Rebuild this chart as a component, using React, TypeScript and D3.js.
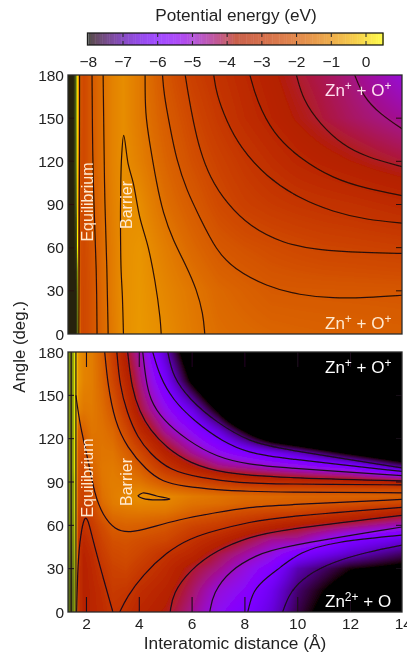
import React, { useMemo } from 'react';
import * as d3 from 'd3';

const W = 407;
const H = 652;
const FONT = '"Liberation Sans", Arial, sans-serif';

// colour bar
const barTicks = [-8, -7, -6, -5, -4, -3, -2, -1, 0];

// axes
const rTicks = [2, 4, 6, 8, 10, 12, 14];
const angleTicks = [0, 30, 60, 90, 120, 150, 180];

// upper panel energies (eV), rows by angle, columns by distance
const topAngles = [180, 150, 120, 90, 60, 30, 0];
const topR = [1.3, 1.5, 1.6, 1.7, 1.8, 1.9, 2.2, 2.6, 3, 3.4, 4, 5, 6, 7, 8, 9, 10, 11, 12, 13, 14];
const top180 = [5, 5, 1.5, -1, -2.2, -2.4, -2, -1.55, -1.2, -1.03, -1.35, -2.1, -2.65, -3.06, -3.4, -3.7, -4, -4.2, -4.45, -4.75, -5.1];
const top150 = [5, 5, 1.5, -1, -2.2, -2.4, -2, -1.55, -1.2, -1.02, -1.35, -1.95, -2.43, -2.87, -3.25, -3.55, -3.82, -4.07, -4.27, -4.44, -4.6];
const top120 = [5, 5, 1.7, -1.3, -2.3, -2.4, -2, -1.55, -1.2, -1, -1.25, -1.78, -2.24, -2.6, -2.92, -3.2, -3.45, -3.62, -3.77, -3.92, -4.05];
const top90 = [5, 5, 2.5, -1.8, -2.3, -2.4, -2.02, -1.6, -1.25, -1, -1.02, -1.57, -1.98, -2.37, -2.65, -2.82, -2.95, -3.04, -3.12, -3.22, -3.33];
const top60 = [5, 5, 4, -1.8, -2.3, -2.4, -2.1, -1.65, -1.3, -1, -0.9, -1.3, -1.7, -2.03, -2.2, -2.32, -2.42, -2.51, -2.55, -2.6, -2.65];
const top30 = [5, 5, 5, -1, -2.4, -2.45, -2.15, -1.7, -1.3, -1, -0.87, -1.15, -1.42, -1.7, -1.85, -2, -2.02, -2.03, -2.04, -2.05, -2.06];
const top0 = [5, 5, 5, -0.5, -2.4, -2.45, -2.15, -1.72, -1.35, -1, -0.85, -1.05, -1.35, -1.58, -1.68, -1.75, -1.79, -1.82, -1.84, -1.86, -1.88];

// lower panel energies (eV), one list per distance, running over lowAngles
const lowAngles = [180, 160, 140, 125, 110, 100, 90, 85, 80, 75, 70, 60, 50, 40, 30, 15, 0];
const lowR = [1.3, 1.5, 1.6, 1.7, 1.9, 2.2, 2.6, 3, 3.5, 4, 5, 6, 7, 8, 9, 10, 12, 14];
const low1_3 = [1.3, 1.3, 1.25, 1.25, 1.2, 1.2, 1.3, 1.3, 1.3, 1.3, 1.35, 1.4, 1.5, 1.6, 1.7, 1.8, 1.8];
const low1_5 = [1, 1, 1, 1, 1, 1, 1.1, 1.1, 1.1, 1.1, 1.1, 1.2, 1.3, 1.4, 1.5, 1.6, 1.6];
const low1_6 = [0.2, 0.2, 0.2, 0.2, 0.2, 0.2, 0.25, 0.25, 0.25, 0.25, 0.3, 0.3, 0.3, 0.3, 0.3, 0.3, 0.3];
const low1_7 = [-0.9, -0.9, -1.2, -1.9, -2.1, -2.2, -2.3, -2.4, -2.4, -2.5, -2.6, -2.8, -3, -3, -3, -3, -3];
const low1_9 = [-1.2, -1.2, -1.4, -1.8, -2.2, -2.4, -2.5, -2.55, -2.6, -2.7, -2.8, -3.05, -3.4, -3.6, -3.7, -3.7, -3.7];
const low2_2 = [-1.3, -1.3, -1.35, -1.45, -1.6, -1.8, -2.05, -2.2, -2.3, -2.45, -2.55, -2.8, -3.05, -3.3, -3.4, -3.5, -3.5];
const low2_6 = [-1.85, -1.75, -1.6, -1.5, -1.45, -1.4, -1.45, -1.5, -1.55, -1.65, -1.85, -2.3, -2.55, -2.75, -2.95, -3.2, -3.3];
const low3 = [-2.75, -2.5, -2.05, -1.7, -1.45, -1.35, -1.3, -1.3, -1.3, -1.35, -1.5, -1.9, -2.2, -2.4, -2.6, -2.8, -3];
const low3_5 = [-3.9, -3.45, -3, -2.4, -1.85, -1.55, -1.35, -1.25, -1.15, -1.2, -1.4, -1.8, -2.15, -2.3, -2.5, -2.9, -3.15];
const low4 = [-4.7, -4.4, -4, -3.3, -2.4, -1.9, -1.45, -1.2, -1, -1.15, -1.35, -1.85, -2.25, -2.5, -2.8, -3.2, -3.45];
const low5 = [-6.85, -6.15, -5.3, -4.6, -3.65, -2.95, -2.05, -1.6, -1.1, -1.2, -1.4, -2.05, -2.45, -3.05, -3.3, -3.6, -3.85];
const low6 = [-9, -8.2, -6.5, -5.5, -4.55, -3.7, -2.45, -1.85, -1.35, -1.5, -1.75, -2.5, -3.05, -3.45, -4, -4.3, -4.55];
const low7 = [-11, -10, -8.2, -6.55, -5.3, -4.35, -2.8, -2.1, -1.5, -1.6, -2, -2.75, -3.5, -4.15, -4.5, -5.1, -5.4];
const low8 = [-13, -12, -10.5, -8, -5.85, -4.6, -3.1, -2.25, -1.65, -1.8, -2.25, -3.15, -4.05, -4.65, -5.15, -5.55, -5.9];
const low9 = [-14, -13, -12, -9.6, -6.3, -4.9, -3.25, -2.35, -1.7, -1.85, -2.4, -3.5, -4.55, -5.2, -5.8, -6.35, -6.6];
const low10 = [-15, -14, -13, -10.5, -6.8, -5.15, -3.35, -2.35, -1.75, -1.95, -2.45, -3.8, -4.65, -5.95, -6.95, -7.4, -7.6];
const low12 = [-16, -15, -14, -12, -8.2, -5.7, -3.5, -2.4, -1.8, -2.2, -2.95, -4.3, -5.9, -6.8, -7.95, -8.6, -9];
const low14 = [-17, -16, -15, -13, -9.5, -7.1, -3.75, -2.45, -1.85, -2.55, -3.45, -4.9, -6.5, -7.5, -8.3, -9.5, -10];

// upper panel contour lines as [distance, angle]
const topA = [[1.74, 180], [1.74, 130], [1.72, 60], [1.71, 0]];
const topB = [[2.21, 180], [2.23, 126], [2.28, 90], [2.38, 45], [2.4, 0]];
const topC = [[2.63, 180], [2.66, 137], [2.69, 90], [2.78, 45], [2.82, 0]];
const topD = [[3.4, 0], [3.36, 26], [3.31, 45], [3.29, 68], [3.29, 90], [3.33, 123], [3.41, 138], [3.58, 118], [3.77, 105], [4.02, 81], [4.34, 60], [4.59, 37], [4.78, 12], [4.83, 0]];
const topE = [[4.22, 180], [4.22, 153], [4.4, 132], [4.65, 105], [4.9, 84], [5.28, 65], [5.79, 47], [6.17, 31], [6.42, 14], [6.48, 0]];
const topF = [[4.88, 180], [4.93, 167], [5.16, 144], [5.41, 121], [5.79, 100], [6.29, 81], [6.92, 58], [7.56, 45.6], [8.82, 33], [10.08, 27], [11.34, 24.8], [12.6, 25.2], [14, 27]];
const topG = [[5.74, 180], [5.85, 167], [6.04, 148], [6.29, 128], [6.67, 109], [7.3, 91], [8.19, 74.6], [9.45, 63], [10.71, 58.3], [12.6, 56.5], [14, 56]];
const topH = [[6.82, 180], [6.92, 167], [7.3, 148], [7.81, 130], [8.82, 109], [10.08, 94], [11.34, 84.9], [12.6, 79.4], [14, 77]];
const topI = [[8.19, 180], [8.44, 162.6], [9.07, 139], [10.08, 122], [11.34, 108], [12.6, 101], [14, 96]];
const topJ = [[9.95, 180], [10.2, 162.6], [10.84, 146], [11.72, 131], [12.6, 123], [14, 116]];
const topK = [[12.16, 180], [12.48, 165], [13.11, 153], [14, 142]];

// lower panel contour lines
const lowU1 = [[2.69, 180], [2.81, 157], [3.07, 132], [3.53, 114], [4.28, 98], [4.89, 90], [5.65, 87], [6.94, 84.5], [8.19, 83.5], [9.32, 83], [14, 82.5]];
const lowU2 = [[3.15, 180], [3.26, 157], [3.53, 138], [3.94, 120.5], [4.4, 110], [5.15, 98], [6.29, 93], [7.8, 89.3], [9.32, 88.6], [14, 88]];
const lowU3 = [[3.56, 180], [3.71, 155], [4.02, 138.5], [4.4, 126], [5.04, 113.6], [5.91, 103], [7.16, 96], [9.32, 93], [14, 90.7]];
const lowU4 = [[4.13, 180], [4.24, 162], [4.4, 147], [4.89, 133], [5.8, 119], [6.94, 107], [8.19, 102], [9.32, 100], [14, 94.4]];
const lowU5 = [[4.51, 180], [4.78, 162.7], [5.27, 147], [6.03, 133], [7.16, 117.7], [8.19, 110], [9.32, 106.6], [14, 97.2]];
const lowU6 = [[5.08, 180], [5.27, 162.7], [5.91, 147], [6.94, 131], [8.19, 117.7], [9.32, 113], [14, 99.7]];
const lowC1 = [[1.6, 150], [1.75, 129.5], [2.05, 106.6], [2.31, 81], [2.62, 67], [3.07, 56.8], [3.64, 54.7], [4.4, 58.2], [5.42, 63.7], [6.94, 69], [8.19, 72.7], [9.32, 74], [14, 78]];
const lowHump = [[1.63, 0], [1.67, 34], [1.78, 54], [1.92, 66], [2.05, 65], [2.24, 50], [2.58, 27], [3, 0]];
const lowC2 = [[3.26, 0], [3.53, 10.4], [4.13, 25.6], [5.04, 41.5], [5.91, 51], [6.94, 56.8], [8.19, 62.3], [9.32, 65.8], [14, 72.5]];
const lowC3 = [[5.17, 0], [5.27, 13], [5.91, 29], [6.94, 43], [8.19, 52], [9.32, 56.8], [14, 67]];
const lowC4 = [[6.67, 0], [6.79, 13], [7.43, 29], [8.45, 39.5], [9.32, 45], [14, 59]];
const lowC5 = [[8.11, 0], [8.3, 15], [8.83, 24], [9.32, 30.5], [10.08, 41.5], [11.33, 48.5], [14, 53.3]];
const lowC6 = [[9.43, 0], [9.7, 13.9], [10.34, 25.6], [11.33, 34.6], [12.62, 41.5], [14, 46.4]];
const lowLoop = [[3.94, 80.3], [4.13, 82.4], [4.66, 80.3], [5.16, 78.3], [4.66, 77.6], [4.13, 78.7], [3.94, 80.3]];
const lowW1 = [[1.42, 180], [1.42, 0]];
const lowW2 = [[1.6, 180], [1.6, 0]];

const topLines = [topA, topB, topC, topD, topE, topF, topG, topH, topI, topJ, topK];
const lowLines = [lowU1, lowU2, lowU3, lowU4, lowU5, lowU6, lowC1, lowHump, lowC2, lowC3, lowC4, lowC5, lowC6, lowLoop, lowW1, lowW2];
// these two keep their points, everything else gets smoothed
const sharpLines = new Set([topD, lowLoop]);

const topGrid = [top180, top150, top120, top90, top60, top30, top0];
const lowGrid = d3.transpose([low1_3, low1_5, low1_6, low1_7, low1_9, low2_2, low2_6, low3, low3_5, low4, low5, low6, low7, low8, low9, low10, low12, low14]) as number[][];

// layout
const xScale = d3.scaleLinear().domain([1.3, 13.95]).range([68, 402]);
const topY = d3.scaleLinear().domain([0, 180]).range([334, 75]);
const lowY = d3.scaleLinear().domain([0, 180]).range([612, 352]);
const barX = d3.scaleLinear().domain([-8, 0]).range([88.3, 366]);

// pm3d palette 7,5,15 between -8 and 0.5; anything above the range goes olive
const above = d3.scaleLinear<string>().domain([0.5, 1, 2, 5]).range(['#ffff00', '#8a9a10', '#4a5a14', '#26200e']).clamp(true);
function heat(v: number): [number, number, number] {
  if (v > 0.5) {
    const c = d3.rgb(above(v));
    return [c.r, c.g, c.b];
  }
  const t = Math.max(0, (v + 8) / 8.5);
  return [255 * Math.sqrt(t), 255 * t * t * t, 255 * Math.max(0, Math.sin(2 * Math.PI * t))];
}

function renderField(grid: number[][], rs: number[], angles: number[], y: d3.ScaleLinear<number, number>) {
  const [x0, x1] = xScale.range();
  const [y1, y0] = y.range();
  const w = x1 - x0;
  const h = y1 - y0;
  const canvas = document.createElement('canvas');
  canvas.width = w;
  canvas.height = h;
  const ctx = canvas.getContext('2d')!;
  const img = ctx.createImageData(w, h);
  const colAt = d3.scaleLinear().domain(rs).range(d3.range(rs.length)).clamp(true);
  const rowAt = d3.scaleLinear().domain(angles).range(d3.range(angles.length)).clamp(true);
  for (let j = 0; j < h; j++) {
    const fr = rowAt(y.invert(y0 + j + 0.5));
    const r0 = Math.min(Math.floor(fr), angles.length - 2);
    for (let i = 0; i < w; i++) {
      const fc = colAt(xScale.invert(x0 + i + 0.5));
      const c0 = Math.min(Math.floor(fc), rs.length - 2);
      const a = d3.interpolateNumber(grid[r0][c0], grid[r0][c0 + 1])(fc - c0);
      const b = d3.interpolateNumber(grid[r0 + 1][c0], grid[r0 + 1][c0 + 1])(fc - c0);
      const [cr, cg, cb] = heat(a + (b - a) * (fr - r0));
      const k = (j * w + i) * 4;
      img.data[k] = cr;
      img.data[k + 1] = cg;
      img.data[k + 2] = cb;
      img.data[k + 3] = 255;
    }
  }
  ctx.putImageData(img, 0, 0);
  return canvas.toDataURL();
}

function Ions({ x, y, left, right, fill }: { x: number; y: number; left: string; right: string | null; fill: string }) {
  return (
    <text x={x} y={y} fontSize={17} fill={fill}>
      Zn<tspan dy={-6.5} fontSize={12}>{left}</tspan>
      <tspan dy={6.5}> + O</tspan>
      {right ? <tspan dy={-6.5} fontSize={12}>{right}</tspan> : null}
    </text>
  );
}

function Panel({ id, y, lines, image, xTicks, lineColor }: any) {
  const [y1, y0] = y.range();
  const [x0, x1] = xScale.range();
  const contour = d3.line<number[]>()
    .x((d) => xScale(d[0]))
    .y((d) => y(d[1]));
  const pathFor = (l: number[][]) => {
    contour.curve(sharpLines.has(l) ? d3.curveCatmullRom.alpha(0.5) : d3.curveBasis);
    return contour(l) as string;
  };
  return (
    <g>
      <defs>
        <clipPath id={id}>
          <rect x={x0} y={y0} width={x1 - x0} height={y1 - y0} />
        </clipPath>
      </defs>
      <image href={image} x={x0} y={y0} width={x1 - x0} height={y1 - y0} preserveAspectRatio="none" />
      <g clipPath={`url(#${id})`} fill="none" stroke={lineColor} strokeWidth={1.2}>
        {lines.map((l: number[][], i: number) => <path key={i} d={pathFor(l)} />)}
        {angleTicks.slice(1, -1).map((a) => (
          <g key={a} strokeWidth={1}>
            <line x1={x0} x2={x0 + 6} y1={y(a)} y2={y(a)} />
            <line x1={x1 - 6} x2={x1} y1={y(a)} y2={y(a)} />
          </g>
        ))}
        {xTicks && rTicks.map((t) => (
          <g key={t} strokeWidth={1.1}>
            <line x1={xScale(t)} x2={xScale(t)} y1={y1} y2={y1 - 15} />
            <line x1={xScale(t)} x2={xScale(t)} y1={y0} y2={y0 + 15} />
          </g>
        ))}
      </g>
      <rect x={x0} y={y0} width={x1 - x0} height={y1 - y0} fill="none" stroke="#2a2a2a" strokeWidth={1.3} />
      {angleTicks.map((a) => (
        <text key={a} x={64} y={y(a) + 5.5} textAnchor="end" fontSize={15.5} fill="#222">{a}</text>
      ))}
    </g>
  );
}

export default function App() {
  const topImage = useMemo(() => renderField(topGrid, topR, topAngles, topY), []);
  const lowImage = useMemo(() => renderField(lowGrid, lowR, lowAngles, lowY), []);
  const strips = d3.range(-8, 0.5, 0.05);
  const cream = '#ffe9cf';
  return (
    <svg
      width={W}
      height={H}
      viewBox={`0 0 ${W} ${H}`}
      style={{ position: 'absolute', left: 0, top: 0, background: '#fff', fontFamily: FONT }}
    >
      <defs>
        <filter id="soft" x="0" y="0" width="100%" height="100%">
          <feGaussianBlur stdDeviation={0.6} />
        </filter>
      </defs>
      <g filter="url(#soft)">
        <text x={236} y={21} textAnchor="middle" fontSize={17.2} fill="#222">Potential energy (eV)</text>

        <g opacity={0.7}>
          {strips.map((v) => {
            const [r, g, b] = heat(v);
            return <rect key={v} x={barX(v)} y={33} width={barX(v + 0.05) - barX(v) + 0.5} height={12} fill={`rgb(${r},${g},${b})`} />;
          })}
        </g>
        <rect x={87.5} y={33} width={295.5} height={12} fill="none" stroke="#1a1a1a" strokeWidth={1.3} />
        {barTicks.map((t) => (
          <g key={t}>
            {t > -8 && <line x1={barX(t)} x2={barX(t)} y1={33} y2={37} stroke="#222" />}
            {t > -8 && <line x1={barX(t)} x2={barX(t)} y1={41} y2={45} stroke="#222" />}
            <text x={barX(t)} y={67} textAnchor="middle" fontSize={15.5} fill="#222">
              {t < 0 ? `\u2212${-t}` : t}
            </text>
          </g>
        ))}

        <Panel id="clipTop" y={topY} lines={topLines} image={topImage} xTicks={false} lineColor="#2a1008" />
        <Panel id="clipLow" y={lowY} lines={lowLines} image={lowImage} xTicks={true} lineColor="#1c0a1c" />

        {rTicks.map((t) => (
          <text key={t} x={xScale(t)} y={628.5} textAnchor="middle" fontSize={15.5} fill="#222">{t}</text>
        ))}
        <text x={235} y={648.5} textAnchor="middle" fontSize={17.3} fill="#222">Interatomic distance (Å)</text>
        <text transform="translate(25,347) rotate(-90)" textAnchor="middle" fontSize={16.8} fill="#222">Angle (deg.)</text>

        <Ions x={325} y={96} left="+" right="+" fill="#ffe0f0" />
        <Ions x={325} y={329} left="+" right="+" fill={cream} />
        <Ions x={325} y={373} left="+" right="+" fill="#fff" />
        <Ions x={325} y={607} left="2+" right={null} fill="#fff" />

        <text transform="translate(93,202) rotate(-90)" textAnchor="middle" fontSize={16} fill={cream}>Equilibrium</text>
        <text transform="translate(132,205) rotate(-90)" textAnchor="middle" fontSize={16} fill={cream}>Barrier</text>
        <text transform="translate(93,478) rotate(-90)" textAnchor="middle" fontSize={16} fill={cream}>Equilibrium</text>
        <text transform="translate(132,482) rotate(-90)" textAnchor="middle" fontSize={16} fill={cream}>Barrier</text>
      </g>
    </svg>
  );
}
